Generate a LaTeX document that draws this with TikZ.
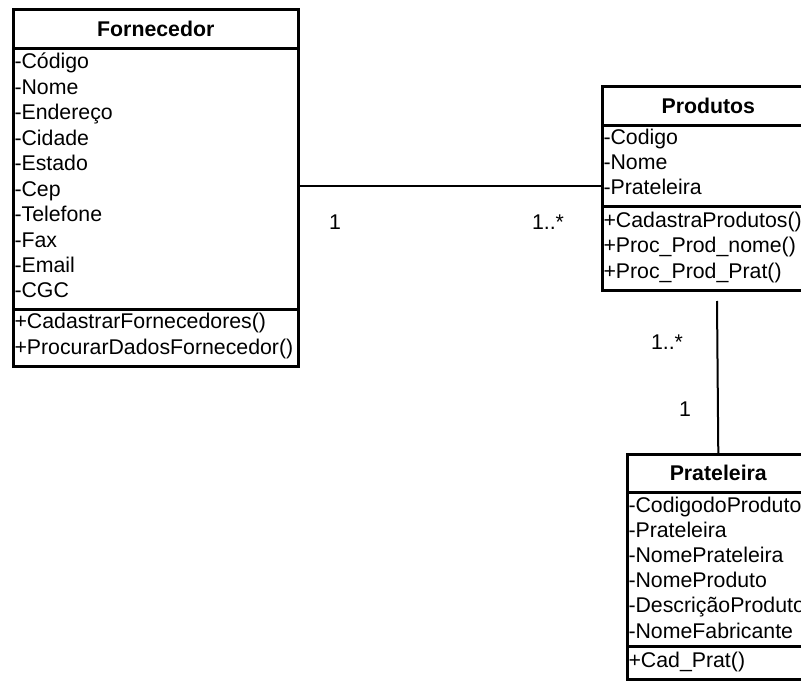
\documentclass[tikz,border=0pt]{standalone}
\usepackage{fontspec}
\setmainfont{Liberation Sans}
\begin{document}
\begin{tikzpicture}[x=1pt,y=-1pt,
  font=\fontsize{21.3}{25}\selectfont,
  comp/.style={draw, line width=2.6pt, rectangle, inner sep=0pt, anchor=north west},
  head/.style={comp, font=\fontsize{21.3}{25}\selectfont\bfseries},
  row/.style={anchor=base west, inner sep=0pt},
  assoc/.style={line width=2pt},
  mult/.style={inner sep=0pt}]
\useasboundingbox (0,0) rectangle (801,682);
\clip (0,0) rectangle (801,682);

% Fornecedor class
\node[head, minimum width=285pt, minimum height=39pt] (fornhead) at (12,8) {Fornecedor};
\node[comp, minimum width=285pt, minimum height=261pt] (fornattr) at (12,47) {};
\node[comp, minimum width=285pt, minimum height=57pt] (fornops) at (12,308) {};
\foreach \t [count=\i from 0] in {-Código,-Nome,-Endereço,-Cidade,-Estado,-Cep,-Telefone,-Fax,-Email,-CGC}
  \node[row] at (14.3,{69+25.44*\i}) {\t};
\foreach \t [count=\i from 0] in {+CadastrarFornecedores(),+ProcurarDadosFornecedor()}
  \node[row] at (14.3,{328+26*\i}) {\t};

% Produtos class
\node[head, minimum width=212pt, minimum height=39pt] (prodhead) at (601,85) {Produtos};
\node[comp, minimum width=212pt, minimum height=81pt] (prodattr) at (601,124) {};
\node[comp, minimum width=212pt, minimum height=84pt] (prodops) at (601,205) {};
\foreach \t [count=\i from 0] in {-Codigo,-Nome,-Prateleira}
  \node[row] at (603.3,{145+25*\i}) {\t};
\foreach \t [count=\i from 0] in {+CadastraProdutos(),+Proc\_Prod\_nome(),+Proc\_Prod\_Prat()}
  \node[row] at (603.3,{227+25.5*\i}) {\t};

% Prateleira class
\node[head, minimum width=182pt, minimum height=38pt] (prathead) at (626,453) {Prateleira};
\node[comp, minimum width=182pt, minimum height=154pt] (pratattr) at (626,491) {};
\node[comp, minimum width=182pt, minimum height=33pt] (pratops) at (626,645) {};
\foreach \t [count=\i from 0] in {-CodigodoProduto,-Prateleira,-NomePrateleira,-NomeProduto,-DescriçãoProduto,-NomeFabricante}
  \node[row] at (628.3,{512+25.2*\i}) {\t};
\node[row] at (628.3,667) {+Cad\_Prat()};

% associations
\coordinate (fornend) at (297,186);
\draw[assoc] (fornattr.east |- fornend) -- (prodattr.west |- fornend);
\coordinate (prodend) at (717,301);
\draw[assoc] (prodend) -- (prathead.north);

% multiplicities
\node[mult] (m1) at (335,222) {1};
\node[mult] (m2) at (548,222) {1..*};
\node[mult] (m3) at (667,342) {1..*};
\node[mult] (m4) at (685,409) {1};
\end{tikzpicture}
\end{document}
